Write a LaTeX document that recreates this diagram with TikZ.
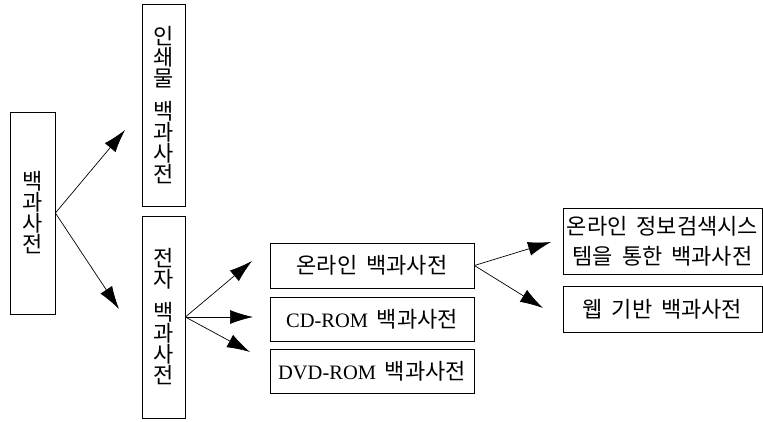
\documentclass[tikz,border=0pt]{standalone}
\usepackage{fontspec}
\setmainfont{Liberation Serif}
\newfontfamily\kr[WordSpace=1.8]{Noto Sans CJK KR}
\usetikzlibrary{arrows.meta}
\begin{document}
\begin{tikzpicture}[x=1pt,y=-1pt]

    \tikzset{
      box/.style={
        draw,
        line width=0.8pt,
        inner sep=0pt,
        align=center,
        font=\kr\fontsize{22}{21}\selectfont,
      },
      vbox/.style={box, minimum width=43, minimum height=202},
      hbox/.style={box, minimum width=204, minimum height=45},
      rbox/.style={box, minimum width=199},
      arr/.style={line width=0.7pt, -{Latex[length=23pt,width=14pt]}},
    }
    \newcommand\latin[1]{{\rmfamily\fontsize{20.5}{21}\selectfont #1}}
    \useasboundingbox (0,0) rectangle (763,421);

	\node[vbox, minimum width=45] (root) at (32.5,213) {백\\과\\사\\전};
	\node[vbox] (print) at (163.5,105.5) {인\\쇄\\물\\[12pt]백\\과\\사\\전};
	\node[vbox] (elec) at (163.5,317) {전\\자\\[12pt]백\\과\\사\\전};
	\node[hbox] (online) at (372,265.5) {온라인 백과사전};
	\node[hbox, minimum height=44] (cdrom) at (372,319) {\latin{CD-ROM} 백과사전};
	\node[hbox, minimum height=44] (dvdrom) at (372,371) {\latin{DVD-ROM} 백과사전};
	\node[rbox, minimum height=66, font=\kr\fontsize{22}{30}\selectfont] (search) at (662.5,241) {온라인 정보검색시스\\템을 통한 백과사전};
	\node[rbox, minimum height=46] (web) at (662.5,309) {웹 기반 백과사전};

	% free ends of the arrows
	\coordinate (toprint) at (125,130);
	\coordinate (toelec) at (119,309);
	\coordinate (toonline) at (252,261);
	\coordinate (tocdrom) at (253,317);
	\coordinate (todvdrom) at (250,352);
	\coordinate (tosearch) at (551,242);
	\coordinate (toweb) at (543,308);

	\draw[arr] (root.east) -- (toprint);
	\draw[arr] (root.east) -- (toelec);
	\draw[arr] (elec.east) -- (toonline);
	\draw[arr] (elec.east) -- (tocdrom);
	\draw[arr] (elec.east) -- (todvdrom);
	\draw[arr] (online.east) -- (tosearch);
	\draw[arr] (online.east) -- (toweb);

\end{tikzpicture}
\end{document}
